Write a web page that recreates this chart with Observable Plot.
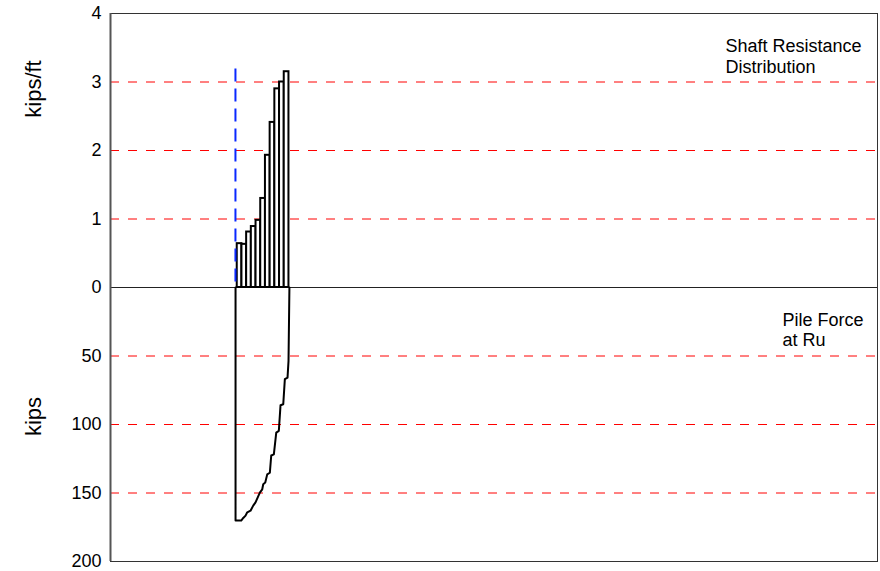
<!DOCTYPE html>
<html>
<head>
<meta charset="utf-8">
<script src="https://cdn.jsdelivr.net/npm/d3@7"></script>
<script src="https://cdn.jsdelivr.net/npm/@observablehq/plot@0.6"></script>
<style>
  html, body { margin: 0; padding: 0; background: #fff; }
  #chart { width: 880px; height: 571px; }
</style>
</head>
<body>
<div id="chart"></div>
<script>
// ---- Data ----
// Shaft resistance distribution (kips/ft) per pile segment
const segments = [1, 2, 3, 4, 5, 6, 7, 8, 9, 10, 11];
const shaftResistance = [0.64, 0.63, 0.81, 0.89, 0.98, 1.30, 1.93, 2.41, 2.90, 3.00, 3.15];

// Pile force at Ru (kips) along the pile (position in segment units)
const forcePosition = [11.1, 10.91, 10.70, 10.13, 9.79, 9.21, 8.85, 8.30, 7.79, 7.23, 6.94, 6.38, 5.96, 5.53, 5.32, 4.81, 3.89, 3.40, 2.83, 2.13, 1.77, 1.28, 0.85, -0.36, -0.36];
const forceKips     = [0, 53.6, 65.8, 66.9, 85.2, 85.9, 104.6, 105.9, 121.8, 122.6, 135.2, 136.4, 142.4, 143.6, 147.3, 149.7, 156.8, 159.2, 162.9, 164.1, 166.5, 168.2, 170.1, 170.1, 0];

// Pile top marker (blue dashed)
const pileTopPosition = -0.38;
const pileTopHeight = 3.19;

// Tick labels
const topTicks = [0, 1, 2, 3, 4];          // kips/ft
const bottomTicks = [50, 100, 150, 200];    // kips
const topGrid = [1, 2, 3];
const bottomGrid = [50, 100, 150];

// ---- Mapping: kips (downwards) share the axis with kips/ft (upwards) ----
const kipsPerUnit = 50;
const k2y = k => -k / kipsPerUnit;

const yTicks = [...topTicks, ...bottomTicks.map(k2y)];
const fmt = d => d >= 0 ? String(d) : String(Math.round(-d * kipsPerUnit));

const bars = segments.map((s, i) => ({x1: s - 1, x2: s, v: shaftResistance[i]}));
const curve = forcePosition.map((p, i) => ({x: p, y: k2y(forceKips[i])}));

const font = "Arial, 'Liberation Sans', Helvetica, sans-serif";

const chart = Plot.plot({
  width: 880,
  height: 571,
  marginTop: 13,
  marginBottom: 10,
  marginLeft: 110,
  marginRight: 3,
  style: {fontFamily: font, fontSize: "18px", color: "#000", background: "#fff", overflow: "visible"},
  x: {domain: [-26.96, 136.2], axis: null},
  y: {domain: [-4, 4], axis: null},
  marks: [
    // red dashed grid
    Plot.ruleY([...topGrid, ...bottomGrid.map(k2y)], {stroke: "#ff0000", strokeWidth: 1, strokeDasharray: "9,9"}),
    // zero line
    Plot.ruleY([0], {stroke: "#222", strokeWidth: 1}),
    // shaft resistance bars
    Plot.rectY(bars, {x1: "x1", x2: "x2", y1: 0, y2: "v", fill: "#fff", stroke: "#000", strokeWidth: 2}),
    // pile top marker
    Plot.ruleX([pileTopPosition], {y1: pileTopHeight, y2: 0, stroke: "#0a28ff", strokeWidth: 2, strokeDasharray: "13,7"}),
    // pile force curve
    Plot.line(curve, {x: "x", y: "y", stroke: "#000", strokeWidth: 2, curve: "linear"}),
    // frame
    Plot.frame({stroke: "#333", strokeWidth: 1}),
    Plot.axisY({ticks: yTicks, tickSize: 0, tickPadding: 9, tickFormat: fmt, label: null, fontSize: 18, anchor: "left"}),
    Plot.ruleX([-26.96], {stroke: "#555", strokeWidth: 2}),
    // axis titles
    Plot.text(["kips/ft"], {frameAnchor: "top-left", dx: -77, dy: 75.5, rotate: -90, fontSize: 22, textAnchor: "middle", lineAnchor: "middle", fill: "#000"}),
    Plot.text(["kips"], {frameAnchor: "left", dx: -77, dy: 129, rotate: -90, fontSize: 22, textAnchor: "middle", lineAnchor: "middle", fill: "#000"}),
    // annotations
    Plot.text(["Shaft Resistance\nDistribution"], {frameAnchor: "top-right", dx: -152, dy: 24, textAnchor: "start", lineAnchor: "top", lineHeight: 1.15, fontSize: 18, fill: "#000"}),
    Plot.text(["Pile Force\nat Ru"], {y: 0, frameAnchor: "right", dx: -95, dy: 24.5, textAnchor: "start", lineAnchor: "top", lineHeight: 1.12, fontSize: 18, fill: "#000"})
  ]
});

document.getElementById("chart").appendChild(chart);
</script>
</body>
</html>
